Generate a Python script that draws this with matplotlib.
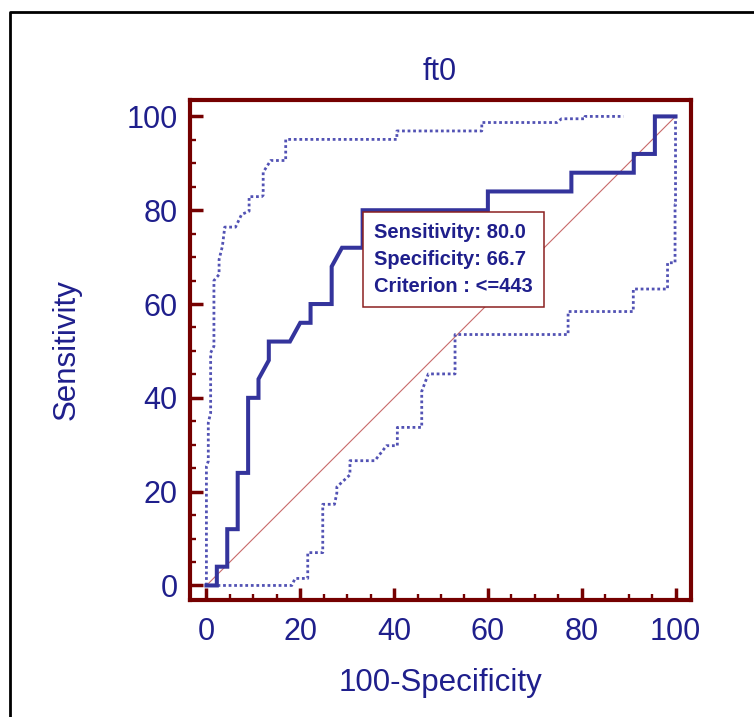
import numpy as np
import matplotlib.pyplot as plt
from matplotlib.ticker import MultipleLocator
from matplotlib.lines import Line2D

plt.rcParams['font.family'] = ['Liberation Sans', 'DejaVu Sans']

### data (100-specificity, sensitivity) ###
roc_fpr = [0, 2.22, 2.22, 4.44, 4.44, 6.67, 6.67, 8.89, 8.89, 11.1, 11.1, 13.3, 13.3,
           17.8, 20.0, 22.2, 22.2, 26.7, 26.7, 28.9, 33.3, 33.3, 60.0, 60.0, 77.8,
           77.8, 91.1, 91.1, 95.6, 95.6, 100]
roc_tpr = [0, 0, 4, 4, 12, 12, 24, 24, 40, 40, 44, 48, 52,
           52, 56, 56, 60, 60, 68, 72, 72, 80, 80, 84, 84,
           88, 88, 92, 92, 100, 100]

# upper 95% confidence bound
upper_fpr = [0, 0, 0.4, 0.4, 0.9, 0.9, 1.6, 1.6, 2.7, 2.7, 3.4, 3.8, 3.9, 6.2, 7.5,
             9.1, 9.1, 11.8, 12.1, 12.1, 13.7, 16.9, 16.9, 40.6, 40.6, 58.7, 58.7,
             74.7, 75.7, 80.7, 80.7, 88.9]
upper_tpr = [0, 25.4, 26.5, 34.7, 36.8, 49.6, 51.0, 65.0, 66.3, 69.5, 72.3, 75.5, 76.4, 76.4, 79.1,
             79.8, 82.9, 82.9, 83.2, 88.1, 90.6, 90.6, 95.1, 95.1, 96.9, 96.9, 98.7,
             98.7, 99.5, 99.5, 100, 100]

# lower 95% confidence bound
lower_fpr = [0, 18.2, 18.9, 21.6, 21.6, 24.8, 24.8, 27.3, 27.8, 27.8, 30.6, 30.6, 35.9,
             38.4, 40.7, 40.7, 45.9, 45.9, 47.3, 53.0, 53.0, 77.1, 77.1, 91.0, 91.0,
             98.3, 98.3, 99.9, 99.9, 100, 100]
lower_tpr = [0, 0, 1.5, 1.5, 7.0, 7.0, 17.3, 17.3, 19.7, 21.0, 23.6, 26.6, 26.6,
             29.8, 29.8, 33.7, 33.7, 41.4, 45.1, 45.1, 53.5, 53.5, 58.4, 58.4, 63.2,
             63.2, 68.8, 68.8, 81.2, 81.2, 100]

best_point = (33.3, 80.0)
best_text = "Sensitivity: 80.0\nSpecificity: 66.7\nCriterion : <=443"

txt_col = '#1f1f8c'
line_col = '#34349c'
band_col = '#5252b4'
frame_col = '#750000'

fig = plt.figure(figsize=(7.54, 7.17), dpi=100)
ax = fig.add_axes([190/754, 1 - 600/717, 501/754, 500/717])

ax.plot([0, 100], [0, 100], color='#c86a6a', lw=0.8, zorder=2)
ax.plot(upper_fpr, upper_tpr, color=band_col, lw=2.0, linestyle=(0, (1, 1)), zorder=3)
ax.plot(lower_fpr, lower_tpr, color=band_col, lw=2.0, linestyle=(0, (1, 1)), zorder=3)
ax.plot(roc_fpr, roc_tpr, color=line_col, lw=2.9, zorder=4, solid_joinstyle='miter')

ax.annotate(best_text, xy=best_point, xytext=(8, -9), textcoords='offset points',
            ha='left', va='top', fontsize=14.5, fontweight='bold', color=txt_col,
            linespacing=1.55, zorder=6,
            bbox=dict(boxstyle='square,pad=0.55', fc='white', ec='#8b2020', lw=1.1))

ax.set_xlim(-3.5, 103.3)
ax.set_ylim(-3.1, 103.5)
ax.xaxis.set_major_locator(MultipleLocator(20))
ax.xaxis.set_minor_locator(MultipleLocator(5))
ax.yaxis.set_major_locator(MultipleLocator(20))
ax.yaxis.set_minor_locator(MultipleLocator(5))
ax.tick_params(which='major', direction='in', length=9, width=2.5, color=frame_col,
               labelsize=22, labelcolor=txt_col)
ax.tick_params(which='minor', direction='in', length=4.5, width=1.7, color=frame_col)
ax.tick_params(axis='x', which='major', pad=12)
ax.tick_params(axis='y', which='major', pad=9)
for s in ax.spines.values():
    s.set_color(frame_col)
    s.set_linewidth(3)

ax.set_xlabel('100-Specificity', fontsize=22.5, color=txt_col, va='center')
ax.xaxis.set_label_coords(0.5, -0.166)
ax.set_ylabel('Sensitivity', fontsize=22.5, color=txt_col, va='center')
ax.yaxis.set_label_coords(-0.2455, 0.5)
fig.text(440/754, 1 - 72/717, 'ft0', fontsize=22, color=txt_col, ha='center', va='center')

# outer frame of the report page
fig.add_artist(Line2D([10/754, 10/754, 1.0], [0.0, 1 - 12/717, 1 - 12/717],
                      transform=fig.transFigure, color='black', lw=2))

fig.savefig('out.png', dpi=100)
